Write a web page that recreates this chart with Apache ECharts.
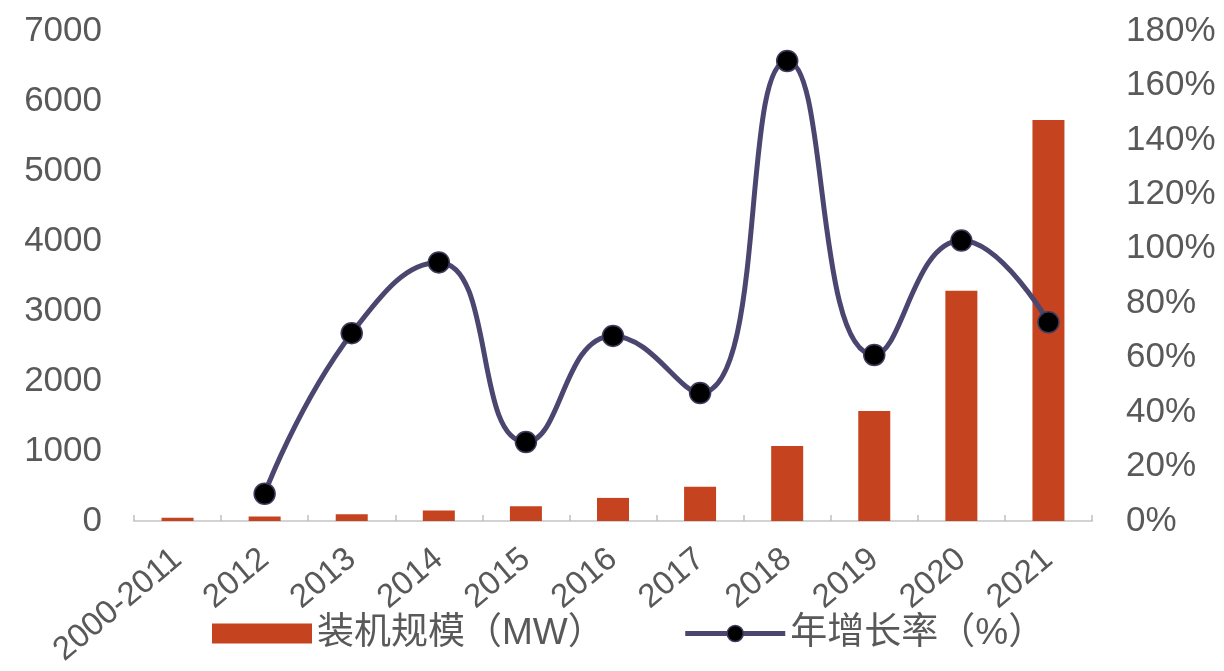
<!DOCTYPE html>
<html>
<head>
<meta charset="utf-8">
<script src="https://cdn.jsdelivr.net/npm/echarts@6/dist/echarts.min.js"></script>
<style>
  html, body { margin: 0; padding: 0; background: #ffffff; }
  #chart { width: 1224px; height: 671px; }
</style>
</head>
<body>
<div id="chart"></div>
<script>
// Years on the category axis
const years = ['2000-2011', '2012', '2013', '2014', '2015', '2016', '2017', '2018', '2019', '2020', '2021'];
// Installed capacity (MW)
const capacityMW = [45, 65, 95, 150, 210, 330, 490, 1070, 1570, 3290, 5730];
// Year-over-year growth rate (%)
const growthPct = [null, 10, 69, 95, 29, 68, 47, 169, 61, 103, 73];
// Axis tick values
const leftTicks = [0, 1000, 2000, 3000, 4000, 5000, 6000, 7000];
const rightTicks = [0, 20, 40, 60, 80, 100, 120, 140, 160, 180];

const barName = '装机规模（MW）';
const lineName = '年增长率（%）';

const font = '"Liberation Sans", Arial, "Noto Sans CJK SC", sans-serif';
const textGray = '#595959';
const lineColor = '#4a4670';

const chart = echarts.init(document.getElementById('chart'), null, { renderer: 'canvas' });

chart.setOption({
  animation: false,
  backgroundColor: '#ffffff',
  textStyle: { fontFamily: font },
  grid: { left: 134, right: 132, top: 31, bottom: 150 },
  legend: {
    left: 207,
    top: 610,
    itemWidth: 100,
    itemHeight: 20,
    itemGap: 78,
    textStyle: { fontSize: 37, color: textGray, fontFamily: font },
    data: [
      { name: barName, icon: 'rect' },
      {
        name: lineName,
        lineStyle: { width: 5, color: lineColor },
        itemStyle: { color: '#000000', borderColor: '#3e3b5e', borderWidth: 1.5 }
      }
    ]
  },
  xAxis: {
    type: 'category',
    data: years,
    boundaryGap: true,
    axisLine: { show: true, lineStyle: { color: '#d3d3d3', width: 2 } },
    axisTick: { show: true, inside: true, length: 6, alignWithLabel: false, lineStyle: { color: '#c0c0c0', width: 1.5 } },
    axisLabel: {
      interval: 0,
      rotate: 40,
      margin: 34,
      padding: [46, 0, 0, 0],
      fontSize: 33,
      color: textGray,
      fontFamily: font
    }
  },
  yAxis: [
    {
      type: 'value',
      min: leftTicks[0],
      max: leftTicks[leftTicks.length - 1],
      interval: leftTicks[1] - leftTicks[0],
      axisLine: { show: false },
      axisTick: { show: false },
      splitLine: { show: false },
      axisLabel: { margin: 32, fontSize: 35, color: textGray, fontFamily: font, formatter: (v) => String(v) }
    },
    {
      type: 'value',
      min: rightTicks[0],
      max: rightTicks[rightTicks.length - 1],
      interval: rightTicks[1] - rightTicks[0],
      axisLine: { show: false },
      axisTick: { show: false },
      splitLine: { show: false },
      axisLabel: { margin: 34, fontSize: 35, color: textGray, fontFamily: font, formatter: '{value}%' }
    }
  ],
  series: [
    {
      name: barName,
      type: 'bar',
      yAxisIndex: 0,
      data: capacityMW,
      barWidth: 32,
      itemStyle: { color: '#c5431f' }
    },
    {
      name: lineName,
      type: 'line',
      yAxisIndex: 1,
      data: growthPct,
      smooth: 0.5,
      symbol: 'circle',
      symbolSize: 21,
      z: 5,
      lineStyle: { color: lineColor, width: 5 },
      itemStyle: { color: '#000000', borderColor: '#3e3b5e', borderWidth: 1.5 }
    }
  ]
});
</script>
</body>
</html>
